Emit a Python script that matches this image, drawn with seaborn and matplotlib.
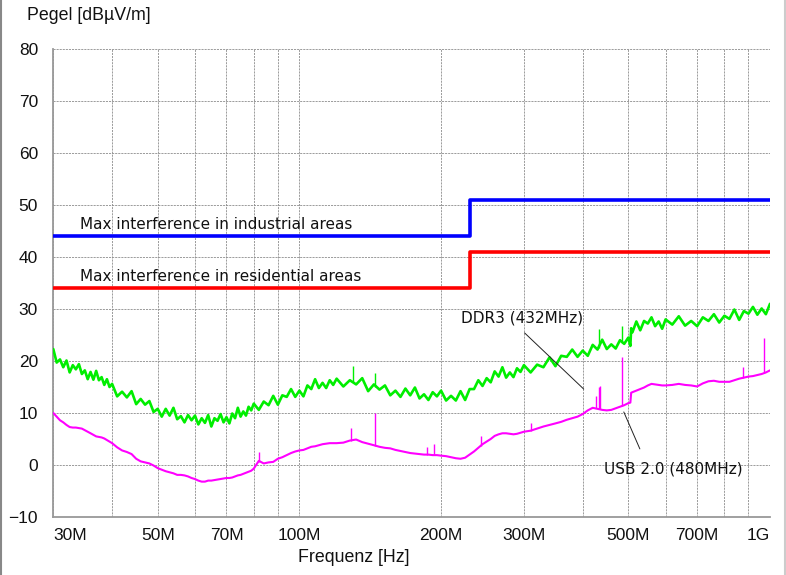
import matplotlib
matplotlib.use("Agg")
import matplotlib.pyplot as plt
import numpy as np
import pandas as pd
import seaborn as sns
from matplotlib.lines import Line2D
from matplotlib.ticker import NullFormatter, FixedLocator

# ---------------- data (frequencies in MHz, levels in dBuV/m) ----------------
freq_mhz = [30, 30.5, 31, 31.5, 32, 32.5, 33, 33.5, 34, 34.5, 35, 35.5, 36, 36.5, 37, 37.5, 38, 38.5, 39, 39.5, 40,
            41, 42, 43, 44, 45, 46, 47, 48, 49, 50, 51, 52, 53, 54, 55, 56, 57, 58, 59, 60,
            61, 62, 63, 64, 65, 66, 67, 68, 69, 70, 71, 72, 73, 74, 75, 76, 77, 78, 79, 80,
            82, 84, 86, 88, 90, 92, 94, 96, 98, 100, 102, 104, 106, 108, 110, 112, 114, 116, 118, 120,
            124, 128, 132, 136, 140, 144, 148, 152, 156, 160, 164, 168, 172, 176, 180, 184, 188, 192, 196, 200,
            205, 210, 215, 220, 225, 230, 235, 240, 245, 250, 255, 260, 265, 270, 275, 280, 285, 290, 295, 300,
            310, 320, 330, 340, 350, 360, 370, 380, 390, 400, 410, 420, 430, 440, 450, 460, 470, 480, 490, 500,
            505, 507, 510,
            520, 530, 540, 550, 560, 570, 580, 590, 600,
            620, 640, 660, 680, 700, 720, 740, 760, 780, 800, 820, 840, 860, 880, 900, 920, 940, 960, 980, 1000]

peak_level = [22.3, 19.7, 20.3, 18.8, 20.1, 17.8, 19.2, 18.4, 19.4, 17.5, 18.2, 16.5, 17.9, 16.4, 18.1, 16.3, 16.9, 15.4, 16.5, 15.0, 15.6,
              13.2, 14.1, 13.0, 14.2, 11.7, 12.7, 11.6, 12.3, 10.2, 10.8, 9.3, 10.8, 9.5, 11.0, 8.8, 9.4, 8.2, 9.6, 8.6, 9.5,
              7.8, 9.0, 8.1, 9.6, 7.4, 9.0, 8.5, 9.8, 8.2, 9.2, 8.0, 9.9, 9.0, 11.0, 9.3, 10.3, 9.5, 11.2, 10.5, 11.8,
              10.6, 12.2, 11.5, 13.3, 11.6, 13.4, 13.1, 14.6, 13.1, 14.3, 13.2, 15.3, 14.6, 16.5, 14.8, 15.8, 14.8, 16.3, 15.4, 16.6,
              15.1, 16.3, 15.5, 16.7, 14.2, 15.5, 14.5, 15.3, 13.4, 14.3, 13.1, 14.7, 13.4, 14.9, 12.8, 13.6, 12.5, 14.0, 13.2, 14.3,
              12.4, 13.3, 12.4, 14.2, 12.5, 14.6, 14.6, 16.3, 15.2, 16.7, 15.9, 18.0, 17.0, 18.8, 16.8, 17.8, 16.9, 18.6, 17.9, 19.2,
              17.8, 19.3, 18.8, 20.7, 19.0, 21.0, 20.8, 22.2, 20.8, 22.0, 21.0, 23.1, 22.2, 24.1, 22.3, 23.2, 22.4, 24.0, 23.3, 24.5,
              22.9, 26.3, 25.5,
              27.6, 25.9, 27.7, 27.2, 28.4, 26.7, 27.6, 26.2, 28.0,
              27.0, 28.6, 26.8, 27.7, 26.7, 28.4, 27.7, 29.0, 27.4, 28.7, 28.1, 29.9, 27.9, 29.6, 29.1, 30.4, 28.9, 30.1, 29.0, 31.0]

avg_level = [10.0, 9.3, 8.6, 8.2, 7.7, 7.3, 7.2, 7.2, 7.1, 7.0, 6.7, 6.4, 6.1, 5.8, 5.5, 5.4, 5.3, 5.1, 4.8, 4.5, 4.2,
             3.4, 2.8, 2.5, 2.1, 1.2, 0.7, 0.5, 0.3, -0.1, -0.6, -0.9, -1.2, -1.4, -1.6, -1.9, -1.9, -2.0, -2.2, -2.5, -2.7,
             -3.0, -3.2, -3.2, -3.0, -3.0, -2.9, -2.8, -2.7, -2.6, -2.5, -2.5, -2.4, -2.2, -2.0, -1.9, -1.7, -1.5, -1.3, -1.1, -0.7,
             0.8, 0.3, 0.5, 0.6, 1.2, 1.5, 1.9, 2.3, 2.6, 2.8, 2.9, 3.2, 3.5, 3.6, 3.8, 4.0, 4.1, 4.2, 4.2, 4.2,
             4.3, 4.7, 4.9, 4.4, 4.1, 3.8, 3.5, 3.3, 3.2, 2.9, 2.7, 2.5, 2.3, 2.2, 2.1, 2.0, 2.0, 1.9, 1.9, 1.8,
             1.7, 1.5, 1.3, 1.2, 1.4, 2.0, 2.6, 3.3, 4.0, 4.5, 5.0, 5.6, 5.9, 6.1, 6.1, 6.0, 5.9, 6.0, 6.2, 6.4,
             6.6, 7.0, 7.4, 7.7, 8.0, 8.3, 8.7, 9.0, 9.3, 9.8, 10.5, 11.0, 10.8, 10.6, 10.5, 10.6, 10.9, 11.2, 11.5, 11.9,
             12.0, 13.9, 14.0,
             14.3, 14.6, 14.9, 15.3, 15.6, 15.5, 15.4, 15.3, 15.3,
             15.4, 15.6, 15.4, 15.3, 15.1, 15.7, 16.1, 16.2, 16.0, 16.0, 16.0, 16.3, 16.6, 16.8, 17.0, 17.1, 17.3, 17.5, 17.8, 18.2]

# narrow spurious peaks
peak_spike_freq = [130, 145, 433, 484]
peak_spike_base = [16.0, 15.0, 22.5, 23.4]
peak_spike_top = [19.1, 17.7, 26.2, 26.8]

avg_spike_freq = [82, 129, 145, 187, 193, 243, 310, 426, 433, 436, 484, 876, 970]
avg_spike_base = [0.5, 4.7, 3.7, 2.0, 1.9, 3.6, 6.6, 11.0, 10.8, 10.8, 11.3, 16.8, 17.7]
avg_spike_top = [2.5, 7.1, 10.0, 3.5, 4.0, 5.6, 8.0, 13.3, 15.0, 15.2, 20.8, 18.8, 24.4]

# limit lines (step at 230 MHz)
limit_freq = [30, 230, 1000]
limit_industrial = [44, 51, 51]
limit_residential = [34, 41, 41]

# axis ticks
xtick_vals = [30, 50, 70, 100, 200, 300, 500, 700, 1000]
xtick_labels = ["30M", "50M", "70M", "100M", "200M", "300M", "500M", "700M", "1G"]
xminor_vals = [40, 60, 80, 90, 400, 600, 800, 900]
ytick_vals = [-10, 0, 10, 20, 30, 40, 50, 60, 70, 80]

# annotations (text and leader-line ends)
ddr3_label = "DDR3 (432MHz)"
ddr3_line = [(301, 25.4), (402, 14.6)]
usb_label = "USB 2.0 (480MHz)"
usb_line = [(489, 10.2), (529, 3.1)]

# ---------------- plotting ----------------
sns.set_theme(style="white")
plt.rcParams["font.family"] = ["Liberation Sans", "DejaVu Sans"]

W, H = 786, 575
fig = plt.figure(figsize=(W / 100, H / 100), dpi=100)
fig.patch.set_facecolor("white")
x0, x1, y0, y1 = 53.3, 770, 49, 517
ax = fig.add_axes([x0 / W, 1 - y1 / H, (x1 - x0) / W, (y1 - y0) / H])
ax.set_facecolor("white")

df = pd.DataFrame({"f": freq_mhz, "peak": peak_level, "avg": avg_level})
lim = pd.DataFrame({"f": limit_freq, "ind": limit_industrial, "res": limit_residential})

sns.lineplot(data=df, x="f", y="peak", ax=ax, color="#00ee00", lw=1.9,
             estimator=None, sort=False, zorder=3)
ax.vlines(peak_spike_freq, peak_spike_base, peak_spike_top, color="#00ee00", lw=1.0, zorder=3)
sns.lineplot(data=df, x="f", y="avg", ax=ax, color="#ff00ff", lw=1.5,
             estimator=None, sort=False, zorder=4)
ax.vlines(avg_spike_freq, avg_spike_base, avg_spike_top, color="#ff00ff", lw=1.0, zorder=4)

sns.lineplot(data=lim, x="f", y="ind", ax=ax, color="#0000ff", lw=2.6,
             drawstyle="steps-post", estimator=None, sort=False, zorder=5)
sns.lineplot(data=lim, x="f", y="res", ax=ax, color="#ff0000", lw=2.6,
             drawstyle="steps-post", estimator=None, sort=False, zorder=5)

ax.set_xscale("log")
ax.set_xlim(30, 1000)
ax.set_ylim(-10, 80)
ax.set_xlabel("")
ax.set_ylabel("")

ax.xaxis.set_major_locator(FixedLocator(xtick_vals))
ax.xaxis.set_minor_locator(FixedLocator(xminor_vals))
ax.xaxis.set_minor_formatter(NullFormatter())
ax.set_xticklabels(xtick_labels)
ax.set_yticks(ytick_vals)
ax.tick_params(axis="both", which="both", length=0, labelsize=12.5, colors="#111111")
ax.tick_params(axis="x", pad=8)
ax.tick_params(axis="y", pad=11)
xl = ax.get_xticklabels()
xl[0].set_ha("left")
xl[-1].set_ha("right")

grid_kw = dict(color="#8c8c8c", lw=0.6, linestyle=(0, (2.5, 1.2)))
ax.grid(True, which="both", axis="x", **grid_kw)
ax.grid(True, which="major", axis="y", **grid_kw)
ax.set_axisbelow(True)

for s in ["top", "right"]:
    ax.spines[s].set_visible(False)
for s in ["left", "bottom"]:
    ax.spines[s].set_color("#999999")
    ax.spines[s].set_linewidth(1.3)

# limit labels
txt_font = dict(family=["DejaVu Sans"], fontsize=11, color="#111111")
ax.text(34.2, 46.3, "Max interference in industrial areas", ha="left", va="center", **txt_font)
ax.text(34.2, 36.2, "Max interference in residential areas", ha="left", va="center", **txt_font)

# component annotations
ax.text(221, 28.3, ddr3_label, ha="left", va="center", **txt_font)
ax.annotate("", xy=ddr3_line[1], xytext=ddr3_line[0],
            arrowprops=dict(arrowstyle="-", color="#222222", lw=0.7, shrinkA=0, shrinkB=0))
ax.text(443, -0.8, usb_label, ha="left", va="center", **txt_font)
ax.annotate("", xy=usb_line[1], xytext=usb_line[0],
            arrowprops=dict(arrowstyle="-", color="#222222", lw=0.7, shrinkA=0, shrinkB=0))

# axis titles placed like the reference
fig.text(27 / W, 1 - 15 / H, "Pegel [dBµV/m]", ha="left", va="center", fontsize=12.8, color="#111111")
fig.text(354 / W, 1 - 557 / H, "Frequenz [Hz]", ha="center", va="center", fontsize=12.8, color="#111111")

# window frame lines at left and right edges
fig.add_artist(Line2D([0.8 / W, 0.8 / W], [0, 1], transform=fig.transFigure, color="#888888", lw=1.5))
fig.add_artist(Line2D([1 - 1.5 / W, 1 - 1.5 / W], [0, 1], transform=fig.transFigure, color="#cccccc", lw=1.5))

fig.savefig("out.png", dpi=100, facecolor="white")
